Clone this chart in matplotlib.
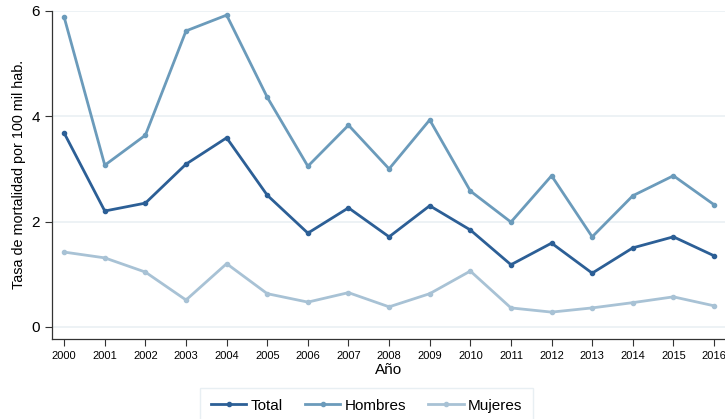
import matplotlib
matplotlib.use("Agg")
import matplotlib.pyplot as plt

# --- Data ---
years = list(range(2000, 2017))
total = [3.68, 2.20, 2.35, 3.09, 3.59, 2.50, 1.78, 2.26, 1.71, 2.30, 1.84,
         1.18, 1.59, 1.02, 1.50, 1.71, 1.35]
hombres = [5.88, 3.07, 3.64, 5.62, 5.92, 4.36, 3.05, 3.83, 3.00, 3.93, 2.58,
           1.99, 2.87, 1.71, 2.49, 2.87, 2.32]
mujeres = [1.42, 1.31, 1.04, 0.51, 1.20, 0.63, 0.47, 0.65, 0.38, 0.63, 1.06,
           0.36, 0.28, 0.36, 0.46, 0.57, 0.40]
y_ticks = [0, 2, 4, 6]

plt.rcParams['font.family'] = ['Liberation Sans', 'DejaVu Sans']

fig = plt.figure(figsize=(7.25, 4.19), dpi=100)
ax = fig.add_axes([0.0717, 0.191, 0.9283, 0.783])

# --- Series ---
ax.plot(years, total, color="#2c5f96", lw=2, marker="o", ms=3, label="Total", zorder=3)
ax.plot(years, hombres, color="#6b9bbb", lw=2, marker="o", ms=3, label="Hombres", zorder=3)
ax.plot(years, mujeres, color="#a8c2d5", lw=2, marker="o", ms=3, label="Mujeres", zorder=3)

# --- Axes styling ---
ax.set_xlim(1999.7, 2016.27)
ax.set_ylim(-0.23, 6.0)
ax.set_xticks(years)
ax.set_xticklabels([str(y) for y in years], fontsize=8)
ax.set_yticks(y_ticks)
ax.set_yticklabels([str(t) for t in y_ticks], fontsize=11)
ax.tick_params(axis="both", direction="out", length=5, width=0.8, color="#333333")
ax.grid(axis="y", color="#eaf0f4", lw=1.2)
ax.set_axisbelow(True)
for side in ["top", "right"]:
    ax.spines[side].set_visible(False)
for side in ["left", "bottom"]:
    ax.spines[side].set_color("#333333")
    ax.spines[side].set_linewidth(0.9)

ax.set_ylabel("Tasa de mortalidad por 100 mil hab.", fontsize=10.4)
ax.set_xlabel("Año", fontsize=11, labelpad=1.5)

# legend sits at the bottom edge, its frame partly cut off like the original
leg = fig.legend(loc="upper center", bbox_to_anchor=(0.506, 0.074), ncol=3,
                 fontsize=11, frameon=True, fancybox=False, handlelength=2.3,
                 handletextpad=0.3, columnspacing=1.45, borderpad=0.7,
                 borderaxespad=0)
leg.get_frame().set_edgecolor("#e3ebf0")
leg.get_frame().set_linewidth(1)

fig.savefig("out.png", dpi=100)
